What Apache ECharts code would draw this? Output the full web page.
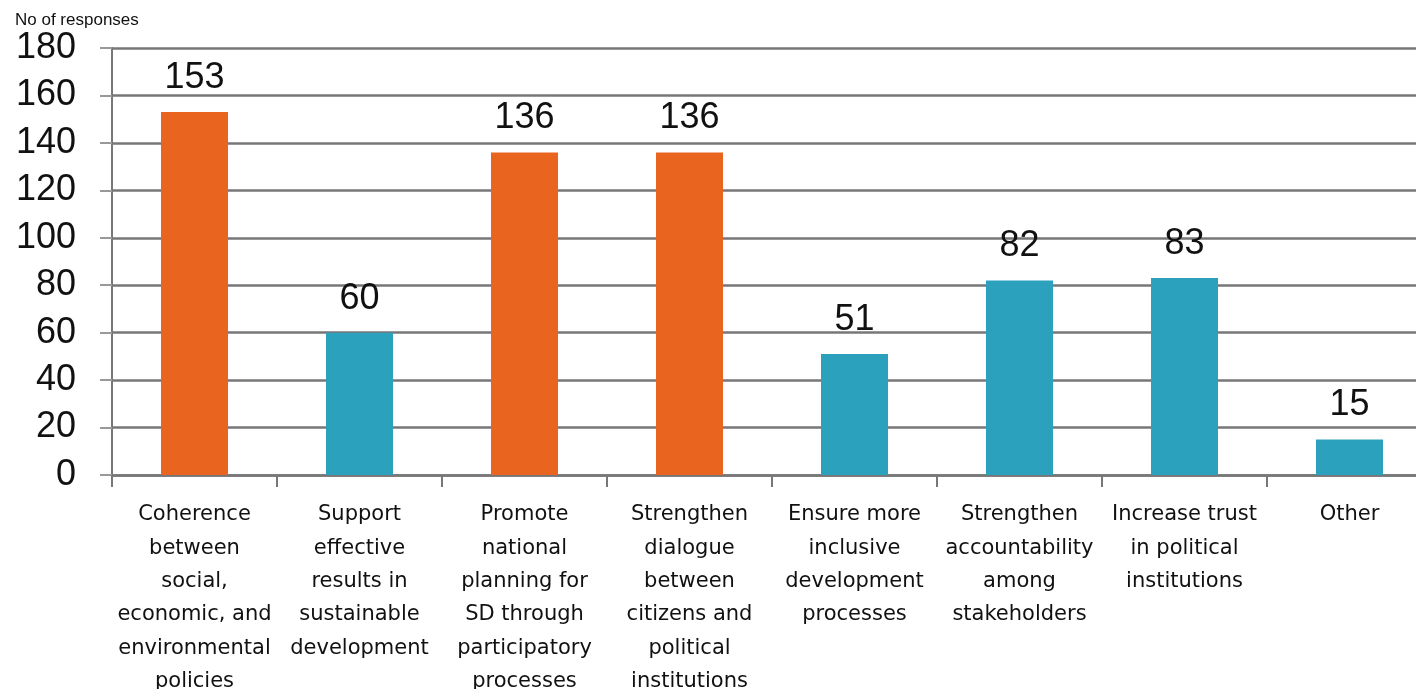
<!DOCTYPE html>
<html>
<head>
<meta charset="utf-8">
<script src="https://cdn.jsdelivr.net/npm/echarts@6/dist/echarts.min.js"></script>
<style>
html,body{margin:0;padding:0;background:#fff;}
#chart{width:1416px;height:689px;}
</style>
</head>
<body>
<div id="chart"></div>
<script>
const categories = [
  "Coherence\nbetween\nsocial,\neconomic, and\nenvironmental\npolicies",
  "Support\neffective\nresults in\nsustainable\ndevelopment",
  "Promote\nnational\nplanning for\nSD through\nparticipatory\nprocesses",
  "Strengthen\ndialogue\nbetween\ncitizens and\npolitical\ninstitutions",
  "Ensure more\ninclusive\ndevelopment\nprocesses",
  "Strengthen\naccountability\namong\nstakeholders",
  "Increase trust\nin political\ninstitutions",
  "Other"
];
const values = [153, 60, 136, 136, 51, 82, 83, 15];
const isOrange = [true, false, true, true, false, false, false, false];
const yTicks = { min: 0, max: 180, interval: 20 };
const axisTitle = "No of responses";

const ORANGE = "#E9641E";
const BLUE = "#2CA1BE";
const GRID = "#777777";

const chart = echarts.init(document.getElementById('chart'));
chart.setOption({
  animation: false,
  backgroundColor: '#fff',
  graphic: [{
    type: 'text', left: 15, top: 12,
    style: { text: axisTitle, font: '17px "Liberation Sans", sans-serif', fill: '#111' }
  }],
  grid: { left: 112, width: 1320, top: 48, height: 427, containLabel: false, outerBoundsMode: 'none' },
  xAxis: {
    type: 'category',
    data: categories,
    axisLine: { show: true, lineStyle: { color: GRID, width: 2.5 } },
    axisTick: { show: true, length: 12, interval: 0, lineStyle: { color: GRID, width: 2 } },
    axisLabel: {
      interval: 0, margin: 23, color: '#111',
      fontFamily: 'DejaVu Sans', fontSize: 21, lineHeight: 33.4
    }
  },
  yAxis: {
    type: 'value',
    min: yTicks.min, max: yTicks.max, interval: yTicks.interval,
    axisLine: { show: true, lineStyle: { color: GRID, width: 2 } },
    axisTick: { show: true, length: 12, lineStyle: { color: '#999', width: 2 } },
    splitLine: { show: true, lineStyle: { color: GRID, width: 2.5 } },
    axisLabel: { margin: 36, color: '#111', fontFamily: 'Liberation Sans', fontSize: 36 }
  },
  series: [{
    type: 'bar',
    barWidth: 67,
    data: values.map((v, i) => ({ value: v, itemStyle: { color: isOrange[i] ? ORANGE : BLUE } })),
    label: {
      show: true, position: 'top', distance: 16,
      color: '#111', fontFamily: 'Liberation Sans', fontSize: 36
    }
  }]
});
</script>
</body>
</html>
